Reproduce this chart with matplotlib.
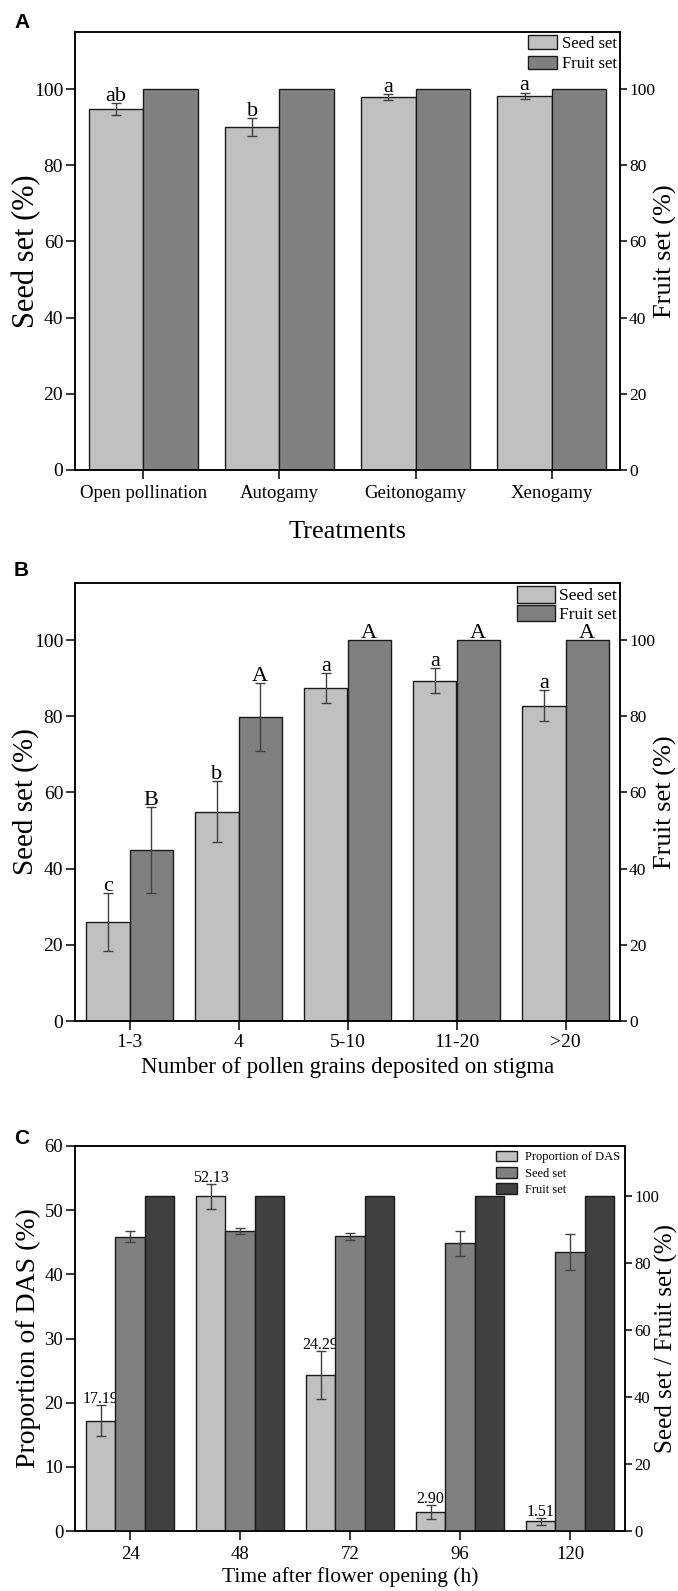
import numpy as np
import matplotlib.pyplot as plt
from matplotlib.patches import Patch

plt.rcParams['font.family'] = ['Liberation Serif', 'DejaVu Serif']
plt.rcParams['axes.linewidth'] = 1.1

W, H = 678, 1591

# panel A
treatments = ['Open pollination', 'Autogamy', 'Geitonogamy', 'Xenogamy']
a_seed = [94.7, 90.0, 98.0, 98.3]
a_seed_err = [1.6, 2.3, 0.8, 0.8]
a_fruit = [100, 100, 100, 100]
a_letters = ['ab', 'b', 'a', 'a']

# panel B
pollen = ['1-3', '4', '5-10', '11-20', '>20']
b_seed = [26.1, 54.9, 87.4, 89.4, 82.8]
b_seed_err = [7.6, 8.0, 4.0, 3.2, 4.1]
b_fruit = [44.9, 79.9, 100, 100, 100]
b_fruit_err = [11.2, 8.9, 0, 0, 0]
b_seed_letters = ['c', 'b', 'a', 'a', 'a']
b_fruit_letters = ['B', 'A', 'A', 'A', 'A']

# panel C
hours = ['24', '48', '72', '96', '120']
das = [17.19, 52.13, 24.29, 2.90, 1.51]
das_err = [2.45, 2.0, 3.75, 1.1, 0.55]
c_seed = [87.9, 89.6, 88.0, 85.9, 83.3]
c_seed_err = [1.6, 0.8, 1.1, 3.8, 5.4]
c_fruit = [100, 100, 100, 100, 100]

light, mid, dark = '#c0c0c0', '#808080', '#404040'
edge = '#1a1a1a'
ekw = dict(ecolor='#404040', elinewidth=1, capsize=3.5, capthick=1)


def px_axes(l, t, r, b):
    return fig.add_axes([l / W, 1 - b / H, (r - l) / W, (b - t) / H])


def style(ax, size=14):
    ax.tick_params(direction='out', length=6.5, width=1.1, labelsize=size, pad=2)


def style_right(ax, size=12.5):
    ax.tick_params(direction='out', length=5, width=1.1, labelsize=size, pad=1.5)


def letter(ax, x, y, s, size=16):
    ax.annotate(s, (x, y), xytext=(0, 1.5), textcoords='offset points',
                ha='center', va='baseline', fontsize=size)


fig = plt.figure(figsize=(W / 100, H / 100), dpi=100)

# ---------------- A ----------------
ax = px_axes(75, 32, 620, 470)
x = np.arange(len(treatments))
w = 0.4
ax.bar(x - w / 2, a_seed, w, yerr=a_seed_err, color=light, edgecolor=edge, lw=1,
       error_kw=ekw)
ax.bar(x + w / 2, a_fruit, w, color=mid, edgecolor=edge, lw=1)
for i in range(len(x)):
    letter(ax, x[i] - w / 2, a_seed[i] + a_seed_err[i], a_letters[i])
ax.set_xlim(-0.5, 3.5)
ax.set_ylim(0, 115)
ax.set_yticks(range(0, 101, 20))
ax.set_xticks(x)
ax.set_xticklabels(treatments)
style(ax)
ax.tick_params(axis='x', labelsize=13.5, pad=4)
ax.set_ylabel('Seed set (%)', fontsize=22, va='center')
ax.yaxis.set_label_coords((27 - 75) / 545, 0.5)
ax.set_xlabel('Treatments', fontsize=19, va='center')
ax.xaxis.set_label_coords(0.5, (470 - 532) / 438)
ax2 = ax.twinx()
ax2.set_ylim(0, 115)
ax2.set_yticks(range(0, 101, 20))
style_right(ax2)
ax2.set_ylabel('Fruit set (%)', fontsize=19, va='center', rotation=90)
ax2.yaxis.set_label_coords((665 - 75) / 545, 0.5)
ax2.legend([Patch(facecolor=light, edgecolor=edge), Patch(facecolor=mid, edgecolor=edge)],
           ['Seed set', 'Fruit set'], loc='upper right', frameon=False, fontsize=12,
           handlelength=1.75, handleheight=0.85, handletextpad=0.3,
           labelspacing=0.25, borderaxespad=0.1, borderpad=0.1)
fig.text(14 / W, 1 - 23 / H, 'A', family='Liberation Sans', weight='bold',
         fontsize=15, va='center', ha='left')

# ---------------- B ----------------
ax = px_axes(75, 583, 620, 1021)
x = np.arange(len(pollen))
ax.bar(x - w / 2, b_seed, w, yerr=b_seed_err, color=light, edgecolor=edge, lw=1,
       error_kw=ekw)
ax.bar(x + w / 2, b_fruit, w, color=mid, edgecolor=edge, lw=1)
ax.errorbar(x[:2] + w / 2, b_fruit[:2], yerr=b_fruit_err[:2], fmt='none', **ekw)
for i in range(len(x)):
    letter(ax, x[i] - w / 2, b_seed[i] + b_seed_err[i], b_seed_letters[i])
    letter(ax, x[i] + w / 2, b_fruit[i] + b_fruit_err[i], b_fruit_letters[i])
ax.set_xlim(-0.5, 4.5)
ax.set_ylim(0, 115)
ax.set_yticks(range(0, 101, 20))
ax.set_xticks(x)
ax.set_xticklabels(pollen)
style(ax)
ax.tick_params(axis='x', pad=3)
ax.set_ylabel('Seed set (%)', fontsize=21, va='center')
ax.yaxis.set_label_coords((26 - 75) / 545, 0.5)
ax.set_xlabel('Number of pollen grains deposited on stigma', fontsize=16.5, va='center')
ax.xaxis.set_label_coords(0.5, (1021 - 1068) / 438)
ax2 = ax.twinx()
ax2.set_ylim(0, 115)
ax2.set_yticks(range(0, 101, 20))
style_right(ax2)
ax2.set_ylabel('Fruit set (%)', fontsize=19, va='center', rotation=90)
ax2.yaxis.set_label_coords((665 - 75) / 545, 0.5)
ax2.legend([Patch(facecolor=light, edgecolor=edge), Patch(facecolor=mid, edgecolor=edge)],
           ['Seed set', 'Fruit set'], loc='upper right', frameon=False, fontsize=12.5,
           handlelength=2.2, handleheight=1.05, handletextpad=0.2,
           labelspacing=0.05, borderaxespad=0.1, borderpad=0.1)
fig.text(14 / W, 1 - 570 / H, 'B', family='Liberation Sans', weight='bold',
         fontsize=15, va='center', ha='left')

# ---------------- C ----------------
ax = px_axes(75, 1146, 625, 1531)
x = np.arange(len(hours))
wc = 0.267
ax.bar(x - wc, das, wc, yerr=das_err, color=light, edgecolor=edge, lw=1, error_kw=ekw)
for i in range(len(x)):
    ax.annotate('%.2f' % das[i], (x[i] - wc, das[i] + das_err[i]), xytext=(0, 1.5),
                textcoords='offset points', ha='center', va='baseline', fontsize=11.5)
ax.set_xlim(-0.5, 4.5)
ax.set_ylim(0, 60)
ax.set_xticks(x)
ax.set_xticklabels(hours)
style(ax, 13.5)
ax.tick_params(axis='x', pad=4)
ax.set_ylabel('Proportion of DAS (%)', fontsize=20, va='center')
ax.yaxis.set_label_coords((28 - 75) / 550, 0.5)
ax.set_xlabel('Time after flower opening (h)', fontsize=15.5, va='center')
ax.xaxis.set_label_coords(0.5, (1531 - 1577) / 385)
ax2 = ax.twinx()
ax2.bar(x, c_seed, wc, yerr=c_seed_err, color=mid, edgecolor=edge, lw=1, error_kw=ekw)
ax2.bar(x + wc, c_fruit, wc, color=dark, edgecolor=edge, lw=1)
ax2.set_ylim(0, 115)
ax2.set_yticks(range(0, 101, 20))
style_right(ax2, 12)
ax2.set_ylabel('Seed set / Fruit set (%)', fontsize=18, va='center', rotation=90)
ax2.yaxis.set_label_coords((666 - 75) / 550, 0.5)
ax2.legend([Patch(facecolor=light, edgecolor=edge), Patch(facecolor=mid, edgecolor=edge),
            Patch(facecolor=dark, edgecolor=edge)],
           ['Proportion of DAS', 'Seed set', 'Fruit set'], loc='upper right',
           frameon=False, fontsize=9, handlelength=1.7, handleheight=0.9,
           handletextpad=0.6, labelspacing=0.3, borderaxespad=0.3, borderpad=0.1)
fig.text(14 / W, 1 - 1138 / H, 'C', family='Liberation Sans', weight='bold',
         fontsize=15, va='center', ha='left')

fig.savefig('out.png', dpi=100)
